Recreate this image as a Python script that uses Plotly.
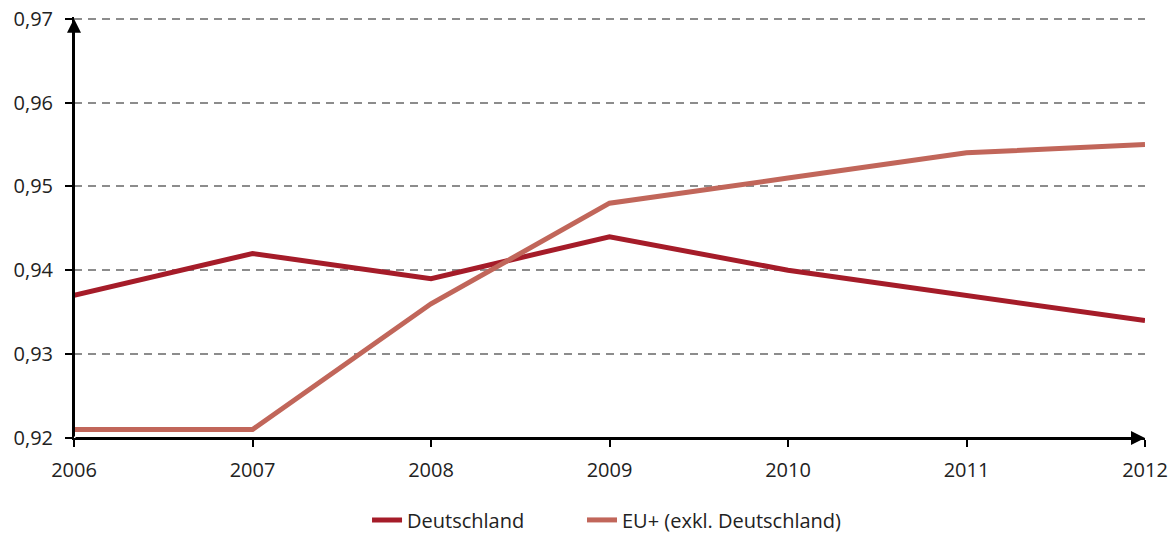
import plotly.graph_objects as go

years = [2006, 2007, 2008, 2009, 2010, 2011, 2012]
deutschland = [0.937, 0.942, 0.939, 0.944, 0.940, 0.937, 0.934]
eu_plus = [0.921, 0.921, 0.936, 0.948, 0.951, 0.954, 0.955]
y_ticks = [0.92, 0.93, 0.94, 0.95, 0.96, 0.97]

FONT = "Open Sans"

fig = go.Figure()
fig.add_trace(go.Scatter(x=years, y=deutschland, mode="lines", name="Deutschland",
                         line=dict(color="#A51C29", width=5), legend="legend"))
fig.add_trace(go.Scatter(x=years, y=eu_plus, mode="lines", name="EU+ (exkl. Deutschland)",
                         line=dict(color="#C1665A", width=5), legend="legend2"))

# axis arrows
fig.add_annotation(x=years[0], y=y_ticks[-1], ax=years[0], ay=y_ticks[0], xref="x", yref="y",
                   axref="x", ayref="y", showarrow=True, arrowhead=2, arrowsize=1.4,
                   arrowwidth=2, arrowcolor="black", text="")
fig.add_annotation(x=years[-1], y=y_ticks[0], ax=years[0], ay=y_ticks[0], xref="x", yref="y",
                   axref="x", ayref="y", showarrow=True, arrowhead=2, arrowsize=1.4,
                   arrowwidth=2, arrowcolor="black", text="")

legend_style = dict(orientation="h", xref="container", yref="container", xanchor="left",
                    y=0.03, yanchor="middle", font=dict(family=FONT, size=20),
                    bgcolor="rgba(0,0,0,0)")

fig.update_layout(
    width=1176, height=536,
    margin=dict(l=74, r=31, t=17, b=98, autoexpand=False),
    plot_bgcolor="white", paper_bgcolor="white",
    separators=",.",
    font=dict(family=FONT, size=20, color="#222"),
    showlegend=True,
    legend=dict(x=0.3121, **legend_style),
    legend2=dict(x=0.4949, **legend_style),
    xaxis=dict(range=[years[0], years[-1]], tickvals=years, showgrid=False, zeroline=False,
               showline=True, linecolor="black", linewidth=2, ticks="outside", ticklen=7,
               tickwidth=2, tickcolor="black", ticklabelstandoff=6),
    yaxis=dict(range=[y_ticks[0], y_ticks[-1] + 0.0002], tickvals=y_ticks, tickformat=".2f",
               showgrid=True, gridcolor="#8c8c8c", gridwidth=2, griddash="8px,6px",
               zeroline=False, showline=True, linecolor="black", linewidth=2,
               ticks="outside", ticklen=7, tickwidth=2, tickcolor="black",
               ticklabelstandoff=8, ticklabeloverflow="allow"),
)

fig.write_html("out.html", config={"displayModeBar": False},
               post_script="document.body.style.margin='0';")
